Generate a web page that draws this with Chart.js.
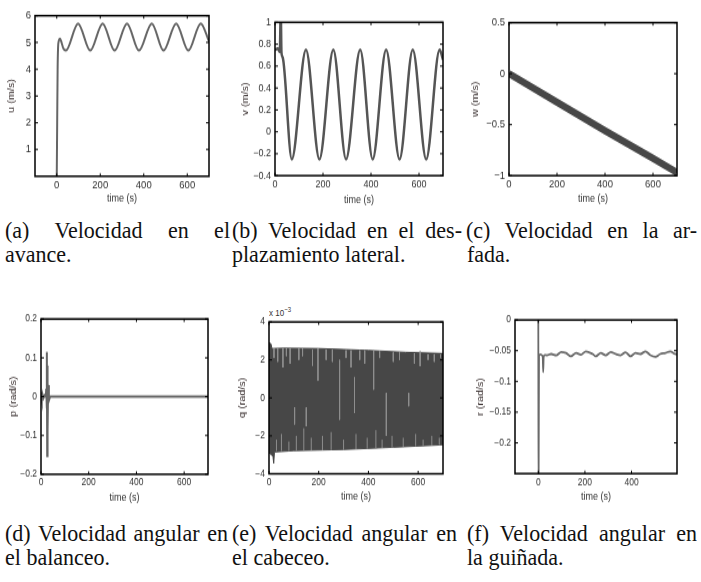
<!DOCTYPE html>
<html>
<head>
<meta charset="utf-8">
<script src="https://cdn.jsdelivr.net/npm/chart.js@4.4.1/dist/chart.umd.min.js"></script>
<style>
body { margin: 0; background: #fff; width: 701px; height: 582px; position: relative; overflow: hidden; }
canvas { position: absolute; }
.cap { position: absolute; font-family: "Liberation Serif", "Times New Roman", serif; font-size: 22px; line-height: 24px; color: #111; white-space: nowrap; transform: scaleY(1.05); transform-origin: 0 19.4px; }
.just { text-align: justify; text-align-last: justify; white-space: normal; }
.expo { position: absolute; font-family: "Liberation Sans", Arial, sans-serif; font-size: 8px; color: #333; transform: scaleY(1.2); transform-origin: 0 0; }
.expo sup { font-size: 6px; }
</style>
</head>
<body>

<div class="cap just" style="left:5px; top:218.6px; width:225px;">(a) Velocidad en el</div>
<div class="cap" style="left:5px; top:242.6px;">avance.</div>
<div class="cap just" style="left:232px; top:218.6px; width:230px;">(b) Velocidad en el des-</div>
<div class="cap" style="left:232px; top:242.6px;">plazamiento lateral.</div>
<div class="cap just" style="left:466px; top:218.6px; width:231px;">(c) Velocidad en la ar-</div>
<div class="cap" style="left:467px; top:242.6px;">fada.</div>

<div class="cap just" style="left:5px; top:521.6px; width:223px;">(d) Velocidad angular en</div>
<div class="cap" style="left:5px; top:545.6px;">el balanceo.</div>
<div class="cap just" style="left:232px; top:521.6px; width:225px;">(e) Velocidad angular en</div>
<div class="cap" style="left:232px; top:545.6px;">el cabeceo.</div>
<div class="cap just" style="left:467px; top:521.6px; width:230px;">(f) Velocidad angular en</div>
<div class="cap" style="left:467px; top:545.6px;">la guiñada.</div>

<div class="expo" style="left:269px; top:306px;">x 10<sup>&minus;3</sup></div>

<script>
// ---- values ----
const timeTicks = [0, 200, 400, 600];
const timeTicksShort = [0, 200, 400];

// (a) u (m/s)
const uTime = [0, 2, 4, 6, 9, 15, 22, 30, 42, 98, 154, 211, 266, 323, 378, 437, 491, 549, 605, 662, 700];
const uVal  = [0, 2.0, 4.0, 4.8, 5.05, 5.14, 5.0, 4.78, 4.7, 5.71, 4.7, 5.71, 4.7, 5.71, 4.7, 5.71, 4.7, 5.71, 4.7, 5.71, 5.04];
const uTicks = [1, 2, 3, 4, 5, 6];

// (b) v (m/s)
const vTime = [0, 12, 20, 24, 27, 32, 70, 129, 185, 243, 296, 355, 407, 463, 519, 574, 630, 686, 700];
const vVal  = [0.75, 0.76, 0.73, 1.1, 0.72, 0.68, -0.25, 0.75, -0.25, 0.75, -0.25, 0.75, -0.25, 0.75, -0.25, 0.75, -0.25, 0.75, 0.66];
const vTicks = [-0.4, -0.2, 0, 0.2, 0.4, 0.6, 0.8, 1];

// (c) w (m/s)
const wTime = [0, 200, 400, 600, 700];
const wVal  = [0.0, -0.28, -0.56, -0.83, -0.97];
const wTicks = [-1, -0.5, 0, 0.5];

// (d) p (rad/s)
const pTime = [0, 2, 4, 6, 10, 15, 20, 22, 24, 25, 26, 27, 28, 30, 33, 38, 700];
const pVal  = [0, 0.012, -0.01, 0.006, -0.004, 0.003, 0, 0.02, -0.03, 0.115, -0.153, 0.08, -0.09, 0.03, -0.01, 0, 0];
const pTicks = [-0.2, -0.1, 0, 0.1, 0.2];

// (e) q (rad/s) x 1e-3 : envelope of the fast oscillation
const qTopTime = [0, 8, 12, 60, 200, 400, 550, 700];
const qTopVal  = [2.9, 2.85, 2.6, 2.62, 2.6, 2.5, 2.4, 2.34];
const qLowTime = [0, 10, 16, 19, 22, 100, 300, 500, 700];
const qLowVal  = [-2.9, -3.0, -3.1, -3.45, -2.85, -2.78, -2.72, -2.6, -2.47];
// light streaks inside the band
const streakTime = [56, 103, 150, 197, 284, 344, 421, 472, 562, 608,
                    20, 35, 70, 85, 120, 135, 175, 230, 255, 310, 330, 365, 385, 445, 500, 525, 585, 640, 665, 690,
                    30, 50, 80, 110, 140, 170, 215, 250, 300, 350, 395, 430, 455, 495, 540, 590, 620, 655, 685];
const streakFrom = [2.6, -0.5, -0.5, 2.6, 2.0, 1.1, 2.5, 0.26, 0.26, 2.45,
                    2.6, 2.6, 2.6, 2.6, 2.6, 2.6, 2.55, 2.55, 2.55, 2.5, 2.5, 2.5, 2.5, 2.45, 2.4, 2.4, 2.35, 2.3, 2.3, 2.3,
                    -2.8, -2.8, -2.8, -2.78, -2.78, -2.77, -2.76, -2.75, -2.72, -2.7, -2.68, -2.66, -2.64, -2.62, -2.58, -2.55, -2.52, -2.5, -2.48];
const streakTo   = [1.6, -1.4, -1.5, 0.9, -1.15, -0.8, 0.44, -2.0, -0.44, 1.67,
                    2.1, 1.9, 2.2, 1.8, 2.0, 2.2, 1.7, 2.0, 1.9, 2.1, 1.6, 2.0, 1.8, 2.1, 1.9, 2.0, 1.8, 2.0, 1.9, 2.1,
                    -2.2, -1.9, -2.3, -2.0, -1.6, -2.1, -2.0, -1.8, -2.2, -1.9, -2.1, -1.7, -2.2, -2.0, -2.1, -1.9, -2.2, -2.0, -2.1];
const qTicks = [-4, -2, 0, 2, 4];

// (f) r (rad/s)
const rTime = [0, 1, 3, 8, 14, 19, 21, 23, 28, 37, 55, 77, 98, 119, 140, 162, 183, 204, 233, 247, 268, 289, 311, 332, 353, 374, 396, 417, 438, 460, 481, 502, 523, 545, 566, 587, 600];
const rVal  = [0, -0.3, -0.058, -0.056, -0.057, -0.06, -0.085, -0.06, -0.057, -0.0575, -0.0554, -0.0575, -0.0522, -0.0538, -0.0591, -0.0538, -0.0565, -0.0511, -0.0554, -0.0591, -0.0538, -0.0575, -0.0522, -0.0554, -0.0575, -0.0527, -0.0591, -0.0538, -0.0554, -0.0511, -0.0575, -0.0602, -0.0554, -0.0538, -0.0511, -0.0554, -0.056];
const rTicks = [-0.2, -0.15, -0.1, -0.05, 0];

// ---- drawing ----
const STRETCH = 1.2;
Chart.defaults.font.family = "'Liberation Sans', Arial, sans-serif";

function pts(xs, ys) {
    return xs.map((x, i) => ({x: x, y: ys[i]}));
}
function fmt(v) {
    return v < 0 ? "\u2212" + String(-v) : String(v);
}

// matlab style box with inner ticks on every side
const boxPlugin = {
    id: "matlabBox",
    afterDraw(chart) {
        const {ctx, chartArea: a, scales} = chart;
        ctx.save();
        ctx.strokeStyle = "#000";
        ctx.lineWidth = 1.5;
        ctx.strokeRect(a.left, a.top, a.right - a.left, a.bottom - a.top);
        ctx.lineWidth = 1;
        ctx.beginPath();
        scales.x.ticks.forEach(tk => {
            const x = scales.x.getPixelForValue(tk.value);
            ctx.moveTo(x, a.bottom); ctx.lineTo(x, a.bottom - 2.5);
            ctx.moveTo(x, a.top); ctx.lineTo(x, a.top + 2.5);
        });
        scales.y.ticks.forEach(tk => {
            const y = scales.y.getPixelForValue(tk.value);
            ctx.moveTo(a.left, y); ctx.lineTo(a.left + 3, y);
            ctx.moveTo(a.right, y); ctx.lineTo(a.right - 3, y);
        });
        ctx.stroke();
        ctx.restore();
    }
};

function makePanel(p) {
    const [l, t, r, b] = p.box;
    const padTop = 8, padRight = 8;
    const boxH = (b - t) / STRETCH;
    const h = Math.round(padTop + boxH + 28);
    const xh = h - padTop - boxH;
    const w = p.yw + (r - l) + padRight;
    const tickSize = p.tickSize || 9;
    const titleSize = 9;
    const lh = titleSize * 1.2;
    const xTicks = p.xTicks || timeTicks;

    const cv = document.createElement("canvas");
    cv.width = w;
    cv.height = h;
    cv.style.left = (l - p.yw) + "px";
    cv.style.top = (t - padTop * STRETCH) + "px";
    cv.style.width = w + "px";
    cv.style.height = (h * STRETCH) + "px";
    document.body.appendChild(cv);

    new Chart(cv, {
        type: "line",
        data: {datasets: p.datasets},
        options: {
            responsive: false,
            animation: false,
            layout: {padding: {top: padTop, right: padRight, left: 0, bottom: 0}},
            plugins: {legend: {display: false}, tooltip: {enabled: false}},
            elements: {point: {radius: 0}},
            scales: {
                x: {
                    type: "linear", min: p.xMin, max: p.xMax,
                    grid: {display: false, drawTicks: false},
                    border: {display: false},
                    afterBuildTicks: s => { s.ticks = xTicks.map(v => ({value: v})); },
                    afterFit: s => { s.height = xh; },
                    ticks: {padding: 2, maxRotation: 0, autoSkip: false, color: "#333",
                            font: {size: tickSize}, callback: v => fmt(v)},
                    title: {display: true, text: "time (s)", color: "#333", font: {size: titleSize},
                            padding: {top: 0, bottom: xh - (p.xTitleY - b) / STRETCH - lh / 2}}
                },
                y: {
                    type: "linear", min: p.yMin, max: p.yMax,
                    grid: {display: false, drawTicks: false},
                    border: {display: false},
                    afterBuildTicks: s => { s.ticks = p.yTicks.map(v => ({value: v})); },
                    afterFit: s => { s.width = p.yw; },
                    ticks: {padding: 4, autoSkip: false, color: "#333",
                            font: {size: tickSize}, callback: v => fmt(v)},
                    title: {display: true, text: p.yTitle, color: "#3a3030", font: {size: titleSize},
                            padding: {top: p.yTitleX - (l - p.yw) - lh / 2, bottom: 0}}
                }
            }
        },
        plugins: [boxPlugin]
    });
}

const streakData = [];
streakTime.forEach((tm, i) => {
    streakData.push({x: tm, y: streakFrom[i]}, {x: tm, y: streakTo[i]}, {x: tm, y: null});
});

document.addEventListener("DOMContentLoaded", function() {
    makePanel({
        box: [35, 14, 209, 176], yw: 35, xMin: -100, xMax: 700, yMin: 0, yMax: 6,
        yTicks: uTicks, yTitle: "u (m/s)", yTitleX: 12, xTitleY: 198, tickSize: 9.5,
        datasets: [{data: pts(uTime, uVal), borderColor: "#666", borderWidth: 2, cubicInterpolationMode: "monotone", clip: 0}]
    });
    makePanel({
        box: [275, 21, 443, 176], yw: 40, xMin: 0, xMax: 700, yMin: -0.4, yMax: 1,
        yTicks: vTicks, yTitle: "v (m/s)", yTitleX: 246, xTitleY: 200, tickSize: 9,
        datasets: [{data: pts(vTime, vVal), borderColor: "#555", borderWidth: 2.5, cubicInterpolationMode: "monotone", clip: 0}]
    });
    makePanel({
        box: [509, 21, 677, 176], yw: 44, xMin: 0, xMax: 700, yMin: -1, yMax: 0.5,
        yTicks: wTicks, yTitle: "w (m/s)", yTitleX: 476, xTitleY: 199, tickSize: 9.5,
        datasets: [{data: pts(wTime, wVal), borderColor: "#474747", borderWidth: 6, tension: 0, clip: 0}]
    });
    makePanel({
        box: [41, 318, 208, 474], yw: 41, xMin: 0, xMax: 700, yMin: -0.2, yMax: 0.2,
        yTicks: pTicks, yTitle: "p (rad/s)", yTitleX: 14, xTitleY: 497, tickSize: 8.5,
        datasets: [{data: pts(pTime, pVal), borderColor: "#666", borderWidth: 2, tension: 0, clip: 0}]
    });
    makePanel({
        box: [269, 321, 443, 474], yw: 37, xMin: 0, xMax: 700, yMin: -4, yMax: 4,
        yTicks: qTicks, yTitle: "q (rad/s)", yTitleX: 243, xTitleY: 497, tickSize: 8.5,
        datasets: [
            {data: streakData, borderColor: "#8e8e8e", borderWidth: 1, tension: 0, spanGaps: false, clip: 0},
            {data: pts(qTopTime, qTopVal), borderColor: "#474747", backgroundColor: "#474747", borderWidth: 1, fill: "+1", tension: 0, clip: 0},
            {data: pts(qLowTime, qLowVal), borderColor: "#474747", borderWidth: 1, tension: 0, clip: 0}
        ]
    });
    makePanel({
        box: [515, 319, 677, 474], yw: 45, xMin: -100, xMax: 595, yMin: -0.25, yMax: 0,
        xTicks: timeTicksShort,
        yTicks: rTicks, yTitle: "r (rad/s)", yTitleX: 481, xTitleY: 497, tickSize: 8.5,
        datasets: [{data: pts(rTime, rVal), borderColor: "#6a6a6a", borderWidth: 1.8, cubicInterpolationMode: "monotone", clip: 0}]
    });
});
</script>
</body>
</html>
